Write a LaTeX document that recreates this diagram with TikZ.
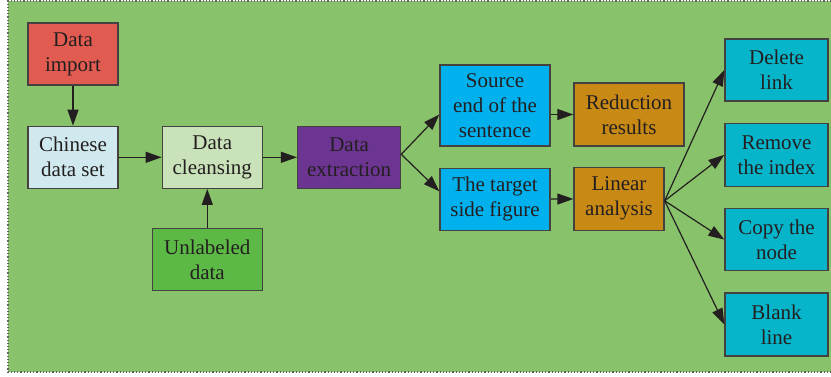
\documentclass[tikz,border=0pt]{standalone}
\usepackage{fontspec}
\setmainfont{Liberation Serif}
\usepackage{tikz}
\usetikzlibrary{positioning,arrows.meta}

\definecolor{bggreen}{RGB}{136,194,106}
\definecolor{ink}{RGB}{35,31,32}
\definecolor{importred}{RGB}{225,91,80}
\definecolor{setblue}{RGB}{207,233,238}
\definecolor{cleangreen}{RGB}{201,226,185}
\definecolor{unlabgreen}{RGB}{93,185,70}
\definecolor{extpurple}{RGB}{108,53,145}
\definecolor{skyblue}{RGB}{0,177,238}
\definecolor{ochre}{RGB}{201,138,21}
\definecolor{teal}{RGB}{6,181,201}

\begin{document}
\begin{tikzpicture}[
  x=1pt, y=1pt,
  node distance=40pt and 43pt,
  every node/.style={font=\fontsize{21}{25}\selectfont, text=ink},
  blk/.style={draw=ink!85, line width=1.3pt, fill=#1, align=center,
              minimum height=62pt, inner sep=0pt},
  arr/.style={-{Triangle[length=16pt,width=11pt]}, line width=1.2pt, draw=ink}]

%% Frame
\useasboundingbox (0,0) rectangle (831,-377);
\fill[bggreen] (8,-1) rectangle (831,-372);
\draw[ink!70, line width=1.2pt, dotted] (831,-1) -- (8,-1) -- (8,-372) -- (831,-372);

%% Left part
\node[blk=importred, minimum width=90pt] (import) at (73,-54) {Data\\import};
\node[blk=setblue, minimum width=90pt, below=of import] (chinese) {Chinese\\data set};
\node[blk=cleangreen, minimum width=100pt, right=of chinese] (cleansing) {Data\\cleansing};
\node[blk=unlabgreen, minimum width=110pt, below=39pt of cleansing, xshift=-5pt] (unlabeled) {Unlabeled\\data};
\node[blk=extpurple, minimum width=103pt, right=34pt of cleansing] (extraction) {Data\\extraction};

%% Middle part
\node[blk=skyblue, minimum width=110pt, minimum height=81pt] (source) at (495,-105.5) {Source\\end of the\\sentence};
\node[blk=skyblue, minimum width=110pt, below=21pt of source] (target) {The target\\side figure};
\node[blk=ochre, minimum width=110pt, minimum height=63pt] (reduction) at (629,-114.5) {Reduction\\results};
\node[blk=ochre, minimum width=90pt, minimum height=63pt,
      below=20pt of reduction.south west, anchor=north west] (linear) {Linear\\analysis};

%% Right column
\node[blk=teal, minimum width=103pt] (delete) at (776.5,-70) {Delete\\link};
\node[blk=teal, minimum width=103pt, minimum height=63pt, below=21pt of delete] (remove) {Remove\\the index};
\node[blk=teal, minimum width=103pt, below=21pt of remove] (copy) {Copy the\\node};
\node[blk=teal, minimum width=103pt, minimum height=63pt, below=21pt of copy] (blank) {Blank\\line};

%% Arrows
\draw[arr] (import) -- (chinese);
\draw[arr] (chinese) -- (cleansing);
\draw[arr] (unlabeled) -- (unlabeled |- cleansing.south);
\draw[arr] (cleansing) -- (extraction);
\draw[arr] ([yshift=3pt]extraction.east) -- ([yshift=-9pt]source.west);
\draw[arr] ([yshift=3pt]extraction.east) -- ([yshift=8pt]target.west);
\draw[arr] ([yshift=-9pt]source.east) -- (reduction.west);
\draw[arr] (target) -- (linear);
\foreach \dst in {delete,remove,copy,blank}{
  \draw[arr] ([yshift=-2pt]linear.east) -- (\dst.west);
}
\end{tikzpicture}
\end{document}
